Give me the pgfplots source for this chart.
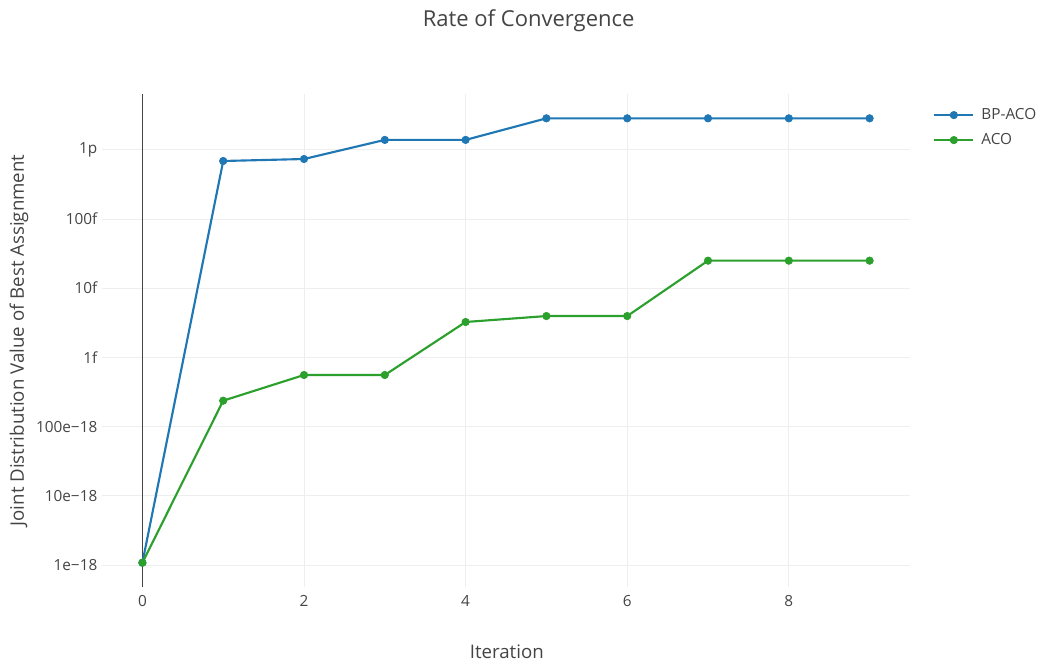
\documentclass[border=0pt]{standalone}
\usepackage{pgfplots}
\pgfplotsset{compat=1.18}
\usepackage{fontspec}
\setmainfont{Open Sans}

\definecolor{txt}{HTML}{444444}
\definecolor{gridc}{HTML}{EEEEEE}
\definecolor{bpaco}{HTML}{1F77B4}
\definecolor{aco}{HTML}{2CA02C}

\begin{document}
\begin{tikzpicture}
\useasboundingbox (0,0) rectangle (780.75pt,498pt);
\begin{axis}[
	at={(76.5pt,57.75pt)}, anchor=south west,
	scale only axis, width=606pt, height=369.75pt,
	ymode=log,
	xmin=-0.5, xmax=9.5,
	ymin=4.81e-19, ymax=6.4e-12,
	xtick={0,2,4,6,8},
	ytick={1e-18,1e-17,1e-16,1e-15,1e-14,1e-13,1e-12},
	yticklabels={1e−18,10e−18,100e−18,1f,10f,100f,1p},
	minor ytick={},
	xmajorgrids=true, ymajorgrids=true,
	grid style={gridc, line width=0.75pt},
	axis line style={draw=none},
	major tick length=0pt, minor tick length=0pt,
	tick style={draw=none},
	ticklabel style={font=\fontsize{11.5}{13}\selectfont, text=txt},
	/pgf/number format/assume math mode=true,
	xticklabel style={yshift=-3pt},
	title={Rate of Convergence},
	title style={at={(axis description cs:0.528,1.132)}, anchor=center, yshift=0pt,
		font=\fontsize{16.5}{18}\selectfont, text=txt},
	xlabel={Iteration},
	xlabel style={at={(axis description cs:0.501,-0.1318)}, anchor=center,
		font=\fontsize{14}{16}\selectfont, text=txt},
	ylabel={Joint Distribution Value of Best Assignment},
	ylabel style={at={(axis description cs:-0.1027,0.5)}, anchor=center,
		font=\fontsize{14}{16}\selectfont, text=txt},
	legend cell align=left,
	legend style={at={(axis description cs:1.0285,0.974)}, anchor=north west,
		draw=none, fill=none, inner sep=0pt, column sep=5.25pt, row sep=6.75pt,
		font=\fontsize{11.5}{13}\selectfont, text=txt,
		nodes={inner sep=0pt, text height=9pt, text depth=3pt}},
	legend image code/.code={
		\draw[mark repeat=2,mark phase=2] plot coordinates {(0pt,0pt) (14.6pt,0pt) (29.25pt,0pt)};
	},
	]

	% zero line at x=0
	\draw[txt, line width=0.8pt] ({axis cs:0,1e-18}|-{rel axis cs:0,0}) -- ({axis cs:0,1e-18}|-{rel axis cs:0,1});

	\addplot[color=bpaco, line width=1.6pt, mark=*, mark size=2.8pt, mark options={line width=0.5pt}]
	coordinates {
		(0,1.08e-18)
		(1,6.89e-13)
		(2,7.36e-13)
		(3,1.39e-12)
		(4,1.39e-12)
		(5,2.85e-12)
		(6,2.85e-12)
		(7,2.85e-12)
		(8,2.85e-12)
		(9,2.85e-12)
	};
	\addplot[color=aco, line width=1.6pt, mark=*, mark size=2.8pt, mark options={line width=0.5pt}]
	coordinates {
		(0,1.08e-18)
		(1,2.37e-16)
		(2,5.57e-16)
		(3,5.57e-16)
		(4,3.25e-15)
		(5,3.96e-15)
		(6,3.96e-15)
		(7,2.5e-14)
		(8,2.5e-14)
		(9,2.5e-14)
	};
	\legend{BP-ACO, ACO}
\end{axis}
\end{tikzpicture}
\end{document}
